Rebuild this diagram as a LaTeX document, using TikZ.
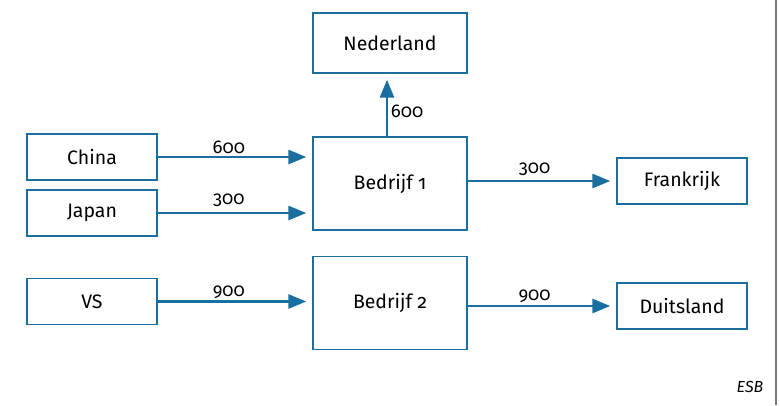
\documentclass[tikz,border=0pt]{standalone}
\usepackage{fontspec}
\setmainfont{Fira Sans}[Numbers=OldStyle]
\usetikzlibrary{arrows.meta}
\definecolor{flowblue}{RGB}{26,111,160}
\definecolor{edgegray}{RGB}{120,120,120}
\begin{document}
\begin{tikzpicture}[x=1pt,y=-1pt,
  box/.style={draw=flowblue,line width=1.4pt,fill=white,inner sep=0pt,
    font=\fontsize{19.5}{22}\selectfont},
  land/.style={box,minimum width=130pt,minimum height=46pt},
  firm/.style={box,minimum width=154pt,minimum height=93pt},
  flow/.style={draw=flowblue,line width=2.8pt,
    -{Triangle[length=18pt,width=14pt]},shorten >=6pt},
  qty/.style={font=\fontsize{18.5}{20}\selectfont,inner sep=0.5pt}]
\useasboundingbox (0,0) rectangle (780,405);
\fill[white] (0,0) rectangle (780,405);
\draw[edgegray,line width=1.5pt] (776,0) -- (776,405);

% sources
\node[land] (china) at (92,157) {China};
\node[land] (japan) at (92,213) {Japan};
\node[land] (vs) at (92,301.5) {VS};

% firms
\node[firm] (b1) at (390,183.5) {Bedrijf 1};
\node[firm] (b2) at (390,303) {Bedrijf 2};

% destinations
\node[box,minimum width=154pt,minimum height=60pt] (nl) at (390,43) {Nederland};
\node[land] (fr) at (682,181) {Frankrijk};
\node[land] (de) at (682,306) {Duitsland};

% flows
\coordinate (b1in1) at (b1.west |- china.east);
\coordinate (b1in2) at (b1.west |- japan.east);
\coordinate (b2in) at (b2.west |- vs.east);
\draw[flow] (china.east) -- node[qty,above=1pt,pos=0.46] {600} (b1in1);
\draw[flow] (japan.east) -- node[qty,above=4pt,pos=0.46] {300} (b1in2);
\draw[flow] (vs.east) -- node[qty,above=1pt,pos=0.46] {900} (b2in);
\draw[flow] (b1.east |- fr.west) -- node[qty,above=3pt,pos=0.45] {300} (fr.west);
\draw[flow] (b2.east |- de.west) -- node[qty,above=1.5pt,pos=0.45] {900} (de.west);
\coordinate (b1up) at ([xshift=-3pt]b1.north);
\draw[flow] (b1up) -- node[qty,right=2pt,pos=0.4] {600} (b1up |- nl.south);

\node[font=\itshape\fontsize{16}{18}\selectfont] (esb) at (750,387) {ESB};
\end{tikzpicture}
\end{document}
